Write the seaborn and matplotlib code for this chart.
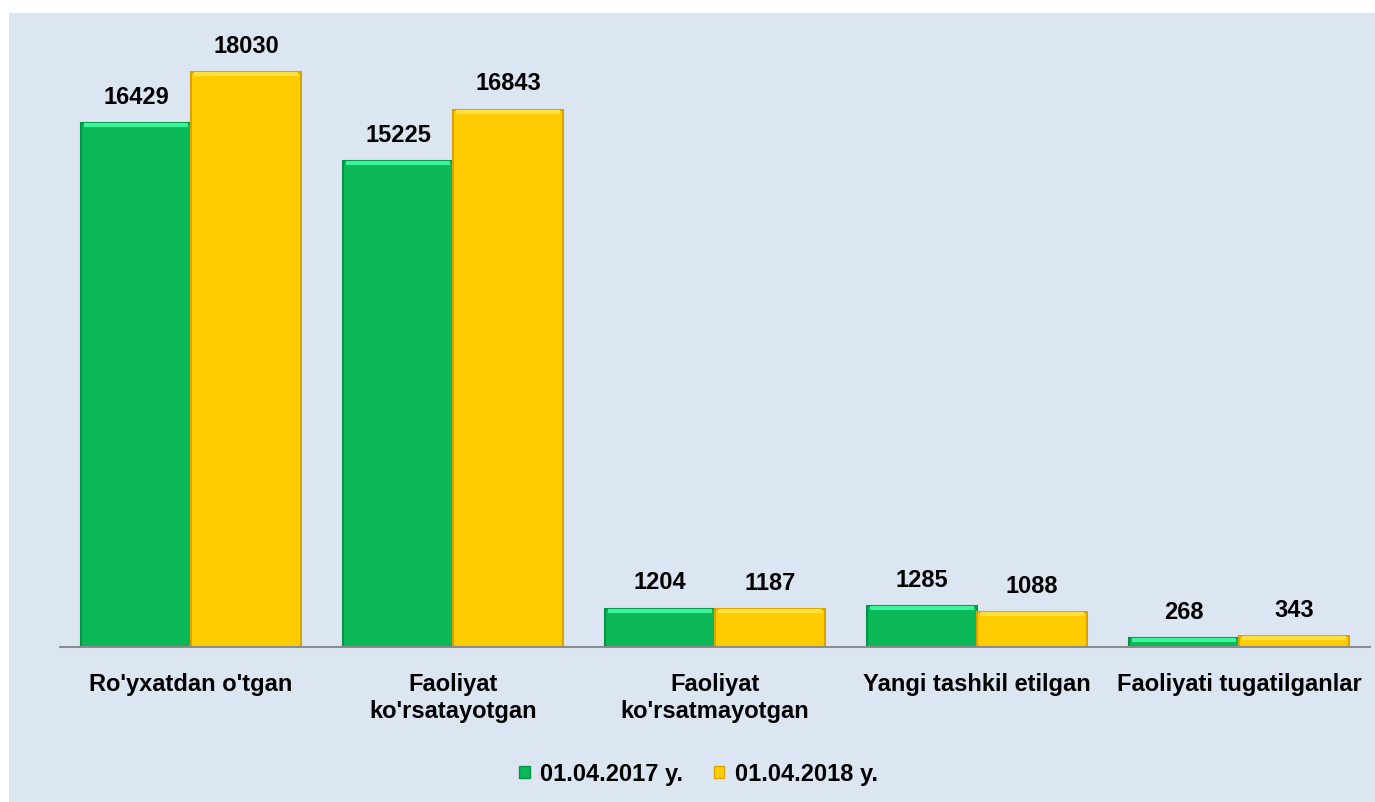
import matplotlib
matplotlib.use('Agg')
import matplotlib.pyplot as plt
import matplotlib.patches as mpatches
import seaborn as sns
import pandas as pd

# data
categories = ["Ro'yxatdan o'tgan", "Faoliyat\nko'rsatayotgan", "Faoliyat\nko'rsatmayotgan",
              "Yangi tashkil etilgan", "Faoliyati tugatilganlar"]
vals_2017 = [16429, 15225, 1204, 1285, 268]
vals_2018 = [18030, 16843, 1187, 1088, 343]
series = ['01.04.2017 y.', '01.04.2018 y.']

df = pd.DataFrame({
    'cat': categories * 2,
    'val': vals_2017 + vals_2018,
    'series': [series[0]] * 5 + [series[1]] * 5,
})

bg = '#dce6f2'
green = '#0bb857'
yellow = '#ffcc00'
edges = {green: '#089247', yellow: '#d9a400'}
lights = {green: '#3cf59a', yellow: '#ffe040'}

sns.set_style('white')
plt.rcParams['font.family'] = ['Liberation Sans', 'DejaVu Sans']
plt.rcParams['text.color'] = 'black'
plt.rcParams['xtick.color'] = 'black'

fig = plt.figure(figsize=(13.75, 8.03), dpi=100)
fig.patch.set_facecolor('white')
fig.patches.append(mpatches.Rectangle((9 / 1375, 0), 1, 1 - 14 / 803, transform=fig.transFigure,
                                      facecolor=bg, edgecolor='none', zorder=-10))
ax = fig.add_axes([60 / 1375, 155 / 803, 1310 / 1375, 638 / 803])
ax.set_facecolor('none')

sns.barplot(data=df, x='cat', y='val', hue='series', palette=[green, yellow],
            width=0.84, gap=0, saturation=1, ax=ax, legend=False)

for cont, col in zip(ax.containers, [green, yellow]):
    for p in cont:
        p.set_edgecolor(edges[col])
        p.set_linewidth(1.5)
        # light bevel along the top edge
        x0, w, h = p.get_x(), p.get_width(), p.get_height()
        ax.plot([x0 + w * 0.03, x0 + w * 0.97], [h - 60, h - 60], color=lights[col],
                lw=3, solid_capstyle='butt', zorder=3)
    ax.bar_label(cont, fmt='%d', padding=11, fontsize=17, fontweight='bold', color='black')

ax.set_ylim(0, 20000)
ax.set_xlim(-0.5, 4.5)
ax.set_xlabel('')
ax.set_ylabel('')
ax.set_yticks([])
ax.tick_params(axis='x', length=0, pad=18, labelsize=17, labelcolor='black')
for t in ax.get_xticklabels():
    t.set_fontweight('bold')
for s in ['top', 'right', 'left']:
    ax.spines[s].set_visible(False)
ax.spines['bottom'].set_color('#8c8c8c')
ax.spines['bottom'].set_linewidth(1.5)

handles = [mpatches.Patch(facecolor=green, edgecolor=edges[green], label=series[0]),
           mpatches.Patch(facecolor=yellow, edgecolor=edges[yellow], label=series[1])]
fig.legend(handles=handles, loc='center', bbox_to_anchor=(0.508, 0.035), ncol=2, frameon=False,
           prop={'size': 17, 'weight': 'bold'}, handlelength=0.45, handleheight=0.45,
           handletextpad=0.45, columnspacing=1.3, labelcolor='black')

fig.savefig('out.png', dpi=100, facecolor=fig.get_facecolor())
